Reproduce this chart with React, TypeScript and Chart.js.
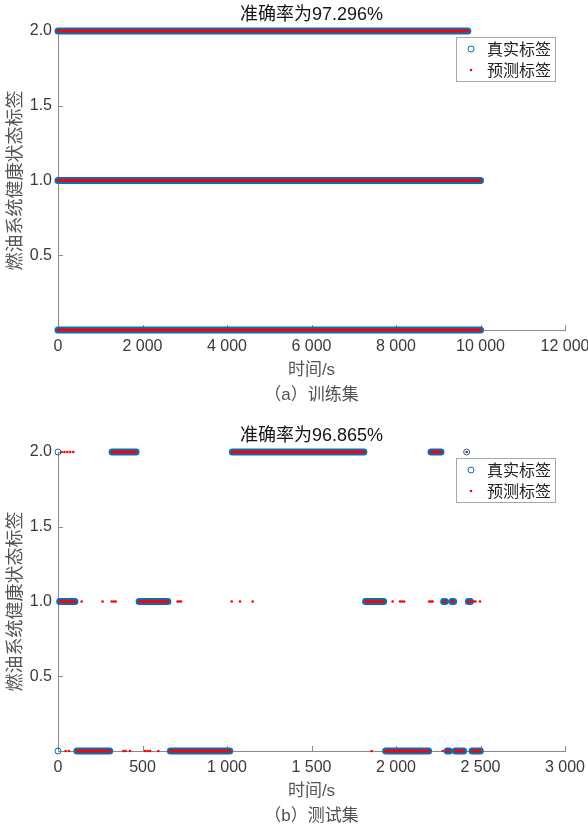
import React, { useEffect, useRef } from "react";
import { Chart, registerables } from "chart.js";

Chart.register(...registerables);

// ---------- text ----------
const trainTitle = "准确率为97.296%";
const testTitle = "准确率为96.865%";
const yAxisLabel = "燃油系统健康状态标签";
const xAxisLabel = "时间/s";
const trainCaption = "（a）训练集";
const testCaption = "（b）测试集";
const legendLabels = ["真实标签", "预测标签"];

// ---------- axes ----------
const yMin = 0;
const yMax = 2;
const yStep = 0.5;
const trainXMax = 12000;
const trainXStep = 2000;
const testXMax = 3000;
const testXStep = 500;

// ---------- training set: continuous runs (true = predicted) ----------
const trainRunStart = [0, 0, 0];
const trainRunEnd = [9700, 10000, 10000];
const trainRunClass = [2, 1, 0];
const trainTrueX: number[] = [];
const trainTrueY: number[] = [];
const trainPredX: number[] = [];
const trainPredY: number[] = [];

// ---------- test set ----------
const testRunStart = [320, 1032, 2207, 10, 480, 1820, 2282, 2331, 2428, 112, 665, 1939, 2303, 2351, 2450];
const testRunEnd = [462, 1810, 2266, 100, 650, 1927, 2291, 2341, 2440, 306, 1016, 2193, 2315, 2400, 2499];
const testRunClass = [2, 2, 2, 1, 1, 1, 1, 1, 1, 0, 0, 0, 0, 0, 0];
// isolated true-label circles
const testTrueX = [0, 0, 2418];
const testTrueY = [2, 0, 2];
// isolated predicted-label dots
const testPredX = [
  20, 38, 55, 72, 90, 2418,
  140, 264, 318, 330, 341, 708, 718, 728, 1028, 1077, 1152, 1980, 2024, 2036, 2048, 2197, 2207, 2217, 2460, 2470, 2497,
  45, 65, 387, 400, 426, 515, 530, 545, 594, 1856, 2276,
];
const testPredY = [
  2, 2, 2, 2, 2, 2,
  1, 1, 1, 1, 1, 1, 1, 1, 1, 1, 1, 1, 1, 1, 1, 1, 1, 1, 1, 1, 1,
  0, 0, 0, 0, 0, 0, 0, 0, 0, 0, 0,
];

// ---------- style ----------
const BLUE = "#0072BD";
const RED = "#FF0000";
const AXIS = "#8a8a8a";
const TICK_TEXT = "#3a3a3a";
const W = 588;
const H = 406;

function runData(start: number[], end: number[], cls: number[]) {
  const d: any[] = [];
  for (let i = 0; i < start.length; i++) {
    d.push({ x: start[i], y: cls[i] }, { x: end[i], y: cls[i] }, { x: end[i], y: null });
  }
  return d;
}
function ptData(xs: number[], ys: number[]) {
  return xs.map((x, i) => ({ x, y: ys[i] }));
}
function fmtThousands(v: number) {
  const s = String(Math.round(v));
  return s.length > 3 ? s.slice(0, s.length - 3) + " " + s.slice(s.length - 3) : s;
}

const decorPlugin = {
  id: "decor",
  beforeDatasetsDraw(chart: any) {
    const { ctx, chartArea, scales } = chart;
    const x = scales.x;
    const y = scales.y;
    ctx.save();
    ctx.strokeStyle = AXIS;
    ctx.lineWidth = 1;
    x.ticks.forEach((t: any) => {
      if (t.value === x.min) return;
      const px = Math.round(x.getPixelForValue(t.value)) + 0.5;
      ctx.beginPath();
      ctx.moveTo(px, chartArea.bottom);
      ctx.lineTo(px, chartArea.bottom - 5);
      ctx.stroke();
    });
    y.ticks.forEach((t: any) => {
      if (t.value === y.min) return;
      const py = Math.round(y.getPixelForValue(t.value)) + 0.5;
      ctx.beginPath();
      ctx.moveTo(chartArea.left, py);
      ctx.lineTo(chartArea.left + 5, py);
      ctx.stroke();
    });
    ctx.restore();
  },
  afterDraw(chart: any, _args: any, opts: any) {
    const { ctx, chartArea } = chart;
    const cx = (chartArea.left + chartArea.right) / 2;
    const cy = (chartArea.top + chartArea.bottom) / 2;
    ctx.save();
    ctx.textAlign = "center";
    ctx.textBaseline = "middle";
    // title
    ctx.fillStyle = "#151515";
    ctx.font = '18px "Liberation Sans", "Noto Sans CJK SC"';
    ctx.fillText(opts.title, cx, chartArea.top - 16);
    // x axis title
    ctx.fillStyle = "#555555";
    ctx.font = '17px "Liberation Sans", "Noto Sans CJK SC"';
    ctx.fillText(xAxisLabel, cx, chartArea.bottom + 40);
    // caption
    ctx.fillStyle = "#505050";
    ctx.font = '17px "Liberation Sans", "Noto Sans CJK SC"';
    ctx.fillText(opts.caption, cx, chartArea.bottom + 65);
    // y axis title
    ctx.save();
    ctx.translate(14, cy);
    ctx.rotate(-Math.PI / 2);
    ctx.fillStyle = "#555555";
    ctx.font = '18px "Noto Sans CJK SC"';
    ctx.fillText(yAxisLabel, 0, 0);
    ctx.restore();
    // legend
    const bx = chartArea.right - 109;
    const by = chartArea.top + 6;
    ctx.fillStyle = "#ffffff";
    ctx.fillRect(bx, by, 99, 44);
    ctx.strokeStyle = "#a8a8a8";
    ctx.lineWidth = 1;
    ctx.strokeRect(Math.round(bx) + 0.5, Math.round(by) + 0.5, 99, 44);
    const mx = bx + 15;
    const y1 = by + 12;
    const y2 = by + 33;
    ctx.strokeStyle = BLUE;
    ctx.beginPath();
    ctx.arc(mx, y1, 3, 0, Math.PI * 2);
    ctx.stroke();
    ctx.fillStyle = RED;
    ctx.beginPath();
    ctx.arc(mx, y2, 1.3, 0, Math.PI * 2);
    ctx.fill();
    ctx.fillStyle = "#222222";
    ctx.textAlign = "left";
    ctx.font = '16px "Noto Sans CJK SC"';
    ctx.fillText(legendLabels[0], bx + 31, y1);
    ctx.fillText(legendLabels[1], bx + 31, y2);
    ctx.restore();
  },
};

type PanelProps = {
  top: number;
  runStart: number[];
  runEnd: number[];
  runClass: number[];
  trueX: number[];
  trueY: number[];
  predX: number[];
  predY: number[];
  xMax: number;
  xStep: number;
  title: string;
  caption: string;
};

function ChartPanel(p: PanelProps) {
  const ref = useRef<HTMLCanvasElement>(null);
  useEffect(() => {
    const runs = runData(p.runStart, p.runEnd, p.runClass);
    const chart = new Chart(ref.current as HTMLCanvasElement, {
      type: "line",
      data: {
        datasets: [
          {
            data: runs,
            showLine: true,
            borderColor: BLUE,
            borderWidth: 7,
            borderCapStyle: "round",
            borderJoinStyle: "round",
            pointRadius: 0,
            pointHoverRadius: 0,
            spanGaps: false,
            clip: false,
            order: 3,
          } as any,
          {
            data: ptData(p.trueX, p.trueY),
            showLine: false,
            pointStyle: "circle",
            pointRadius: 3,
            pointBorderWidth: 1,
            pointBorderColor: BLUE,
            pointBackgroundColor: "rgba(0,0,0,0)",
            clip: false,
            order: 2,
          } as any,
          {
            data: runs,
            showLine: true,
            borderColor: RED,
            borderWidth: 3,
            borderCapStyle: "round",
            pointRadius: 0,
            pointHoverRadius: 0,
            spanGaps: false,
            clip: false,
            order: 1,
          } as any,
          {
            data: ptData(p.predX, p.predY),
            showLine: false,
            pointStyle: "circle",
            pointRadius: 1.3,
            pointBorderWidth: 0,
            pointBackgroundColor: RED,
            clip: false,
            order: 0,
          } as any,
        ],
      },
      options: {
        animation: false,
        responsive: false,
        events: [],
        layout: { padding: { left: 0, top: 31, right: 23, bottom: 0 } },
        plugins: {
          legend: { display: false },
          tooltip: { enabled: false },
          title: { display: false },
          decor: { title: p.title, caption: p.caption },
        } as any,
        scales: {
          x: {
            type: "linear",
            min: 0,
            max: p.xMax,
            grid: { display: false, drawTicks: false },
            border: { display: true, color: AXIS, width: 1 },
            ticks: {
              stepSize: p.xStep,
              autoSkip: false,
              maxRotation: 0,
              padding: 7,
              color: TICK_TEXT,
              font: { family: '"Liberation Sans", Arial', size: 16 },
              callback: (v: any) => fmtThousands(Number(v)),
            },
            afterFit: (s: any) => {
              s.height = H - 330;
              s.paddingLeft = 0;
              s.paddingRight = 0;
            },
          },
          y: {
            type: "linear",
            min: yMin,
            max: yMax,
            grid: { display: false, drawTicks: false },
            border: { display: true, color: AXIS, width: 1 },
            ticks: {
              stepSize: yStep,
              autoSkip: false,
              padding: 6,
              color: TICK_TEXT,
              font: { family: '"Liberation Sans", Arial', size: 16 },
              callback: (v: any) => (Number(v) === 0 ? "" : Number(v).toFixed(1)),
            },
            afterFit: (s: any) => {
              s.width = 58;
              s.paddingTop = 0;
              s.paddingBottom = 0;
            },
          },
        },
      } as any,
      plugins: [decorPlugin as any],
    });
    return () => chart.destroy();
  }, []);
  return (
    <div style={{ position: "absolute", left: 0, top: p.top, width: W, height: H }}>
      <canvas ref={ref} width={W} height={H} style={{ width: W, height: H, display: "block" }} />
    </div>
  );
}

export default function App() {
  return (
    <div style={{ position: "absolute", left: 0, top: 0, width: 588, height: 827, background: "#ffffff" }}>
      <ChartPanel
        top={0}
        runStart={trainRunStart}
        runEnd={trainRunEnd}
        runClass={trainRunClass}
        trueX={trainTrueX}
        trueY={trainTrueY}
        predX={trainPredX}
        predY={trainPredY}
        xMax={trainXMax}
        xStep={trainXStep}
        title={trainTitle}
        caption={trainCaption}
      />
      <ChartPanel
        top={421}
        runStart={testRunStart}
        runEnd={testRunEnd}
        runClass={testRunClass}
        trueX={testTrueX}
        trueY={testTrueY}
        predX={testPredX}
        predY={testPredY}
        xMax={testXMax}
        xStep={testXStep}
        title={testTitle}
        caption={testCaption}
      />
    </div>
  );
}
